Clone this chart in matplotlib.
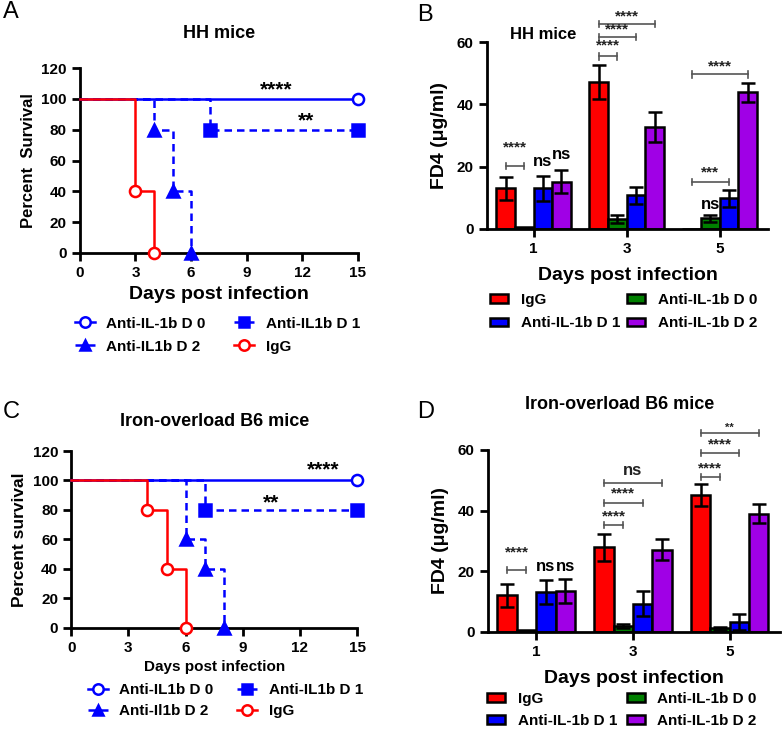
import numpy as np
import matplotlib
matplotlib.use("Agg")
import matplotlib.pyplot as plt
from matplotlib.patches import Patch

plt.rcParams['font.family'] = ['Liberation Sans', 'DejaVu Sans']
plt.rcParams['font.weight'] = 'bold'

# ---- survival data (Kaplan-Meier step curves) ----
# panel A: HH mice
a_d0_t = [0, 15];          a_d0_s = [100, 100]
a_d1_t = [0, 7, 15];       a_d1_s = [100, 80, 80]
a_d2_t = [0, 4, 5, 6];     a_d2_s = [100, 80, 40, 0]
a_igg_t = [0, 3, 4];       a_igg_s = [100, 40, 0]
a_labels = ['Anti-IL-1b D 0', 'Anti-IL1b D 1', 'Anti-IL1b D 2', 'IgG']

# panel C: iron-overload B6 mice
c_d0_t = [0, 15];          c_d0_s = [100, 100]
c_d1_t = [0, 7, 15];       c_d1_s = [100, 80, 80]
c_d2_t = [0, 6, 7, 8];     c_d2_s = [100, 60, 40, 0]
c_igg_t = [0, 4, 5, 6];    c_igg_s = [100, 80, 40, 0]
c_labels = ['Anti-IL1b D 0', 'Anti-IL1b D 1', 'Anti-Il1b D 2', 'IgG']

# ---- FD4 bar data ----
days = ['1', '3', '5']
groups = ['IgG', 'Anti-IL-1b D 0', 'Anti-IL-1b D 1', 'Anti-IL-1b D 2']
bar_colors = ['#ff0000', '#008000', '#0000ff', '#a000e6']

b_mean = [[13.0, 47.2, 0.0],
          [0.5, 3.2, 3.4],
          [13.1, 10.8, 9.8],
          [15.2, 32.8, 43.9]]
b_err = [[3.8, 5.4, 0.0],
         [0.0, 1.4, 1.1],
         [4.0, 2.7, 2.6],
         [3.7, 4.8, 3.1]]

d_mean = [[12.0, 27.8, 45.2],
          [0.4, 1.9, 1.1],
          [13.0, 9.3, 3.3],
          [13.5, 27.1, 39.0]]
d_err = [[3.8, 4.4, 3.6],
         [0.0, 0.6, 0.6],
         [4.0, 4.0, 2.6],
         [4.0, 3.4, 3.2]]

# significance brackets: (day index, group from, group to, y, label, label y)
b_sig = [(0, 0, 1, 20.3, '****', 24.0),
         (1, 0, 1, 55.4, '****', 56.8),
         (1, 0, 2, 61.6, '****', 61.8),
         (1, 0, 3, 65.8, '****', 66.0),
         (2, 0, 2, 15.2, '***', 16.0),
         (2, 0, 3, 49.6, '****', 49.8)]
b_ns = [(0, 2, 19.2), (0, 3, 21.6), (2, 1, 5.6)]

d_sig = [(0, 0, 1, 20.4, '****', 24.0),
         (1, 0, 1, 35.2, '****', 35.6),
         (1, 0, 2, 42.6, '****', 43.4),
         (1, 0, 3, 49.0, 'ns', 50.6),
         (2, 0, 1, 51.2, '****', 51.6),
         (2, 0, 2, 58.9, '****', 59.6),
         (2, 0, 3, 65.5, '**', 65.6)]
d_ns = [(0, 2, 19.0), (0, 3, 19.0)]

W = 0.2


def style_axes(ax):
    for s in ['top', 'right']:
        ax.spines[s].set_visible(False)
    for s in ['left', 'bottom']:
        ax.spines[s].set_linewidth(2)
    ax.tick_params(width=2, length=6, labelsize=11, direction='out')
    for lab in ax.get_xticklabels() + ax.get_yticklabels():
        lab.set_fontweight('bold')


def survival(ax, curves, labels, title, xlabel_size, ylabel, ylabel_size, stars):
    blue, red = '#0000ff', '#ff0000'
    specs = [
        dict(color=blue, ls='-', marker='o', mfc='white', idx=[-1]),
        dict(color=blue, ls=(0, (3, 2)), marker='s', mfc=blue, idx=None),
        dict(color=blue, ls=(0, (3, 2)), marker='^', mfc=blue, idx=None),
        dict(color=red, ls='-', marker='o', mfc='white', idx=None),
    ]
    handles = []
    for (t, s), sp, lab in zip(curves, specs, labels):
        ax.step(t, s, where='post', color=sp['color'], ls=sp['ls'], lw=1.8,
                clip_on=False, zorder=3)
        tt = t[1:] if sp['idx'] is None else [t[i] for i in sp['idx']]
        ss = s[1:] if sp['idx'] is None else [s[i] for i in sp['idx']]
        ax.plot(tt, ss, ls='none', marker=sp['marker'], ms=8,
                mfc=sp['mfc'], mec=sp['color'], mew=1.8, clip_on=False, zorder=4)
        h, = ax.plot([], [], color=sp['color'], ls=sp['ls'], lw=1.8,
                     marker=sp['marker'], ms=7.5, mfc=sp['mfc'], mec=sp['color'], mew=1.8)
        handles.append(h)
    ax.set_xlim(0, 15)
    ax.set_ylim(0, 120)
    ax.set_xticks([0, 3, 6, 9, 12, 15])
    ax.set_yticks([0, 20, 40, 60, 80, 100, 120])
    style_axes(ax)
    ax.set_xlabel('Days post infection', fontsize=xlabel_size, fontweight='bold', labelpad=4)
    ax.set_ylabel(ylabel, fontsize=ylabel_size, fontweight='bold', labelpad=4)
    ax.set_title(title, fontsize=13, fontweight='bold', pad=22)
    for x, y, txt in stars:
        ax.text(x, y, txt, ha='center', va='center', fontsize=15, fontweight='bold')
    order = [0, 2, 1, 3]
    return [handles[i] for i in order], [labels[i] for i in order]


def bars(ax, mean, err, sig, ns):
    x = np.arange(len(days))
    for g in range(len(groups)):
        pos = x + (g - 1.5) * W
        ax.bar(pos, mean[g], W, color=bar_colors[g], edgecolor='black', lw=1.8, zorder=2)
        m = np.array(mean[g]); e = np.array(err[g])
        keep = e > 0
        ax.errorbar(pos[keep], m[keep], yerr=e[keep], fmt='none', ecolor='black',
                    elinewidth=1.8, capsize=5, capthick=1.8, zorder=3)
    for day, g1, g2, y, txt, ty in sig:
        x1 = x[day] + (g1 - 1.5) * W
        x2 = x[day] + (g2 - 1.5) * W
        kw = dict(color='#555555', lw=1.2, clip_on=False)
        ax.plot([x1, x2], [y, y], **kw)
        ax.plot([x1, x1], [y - 1, y + 1], **kw)
        ax.plot([x2, x2], [y - 1, y + 1], **kw)
        fs = 8 if txt == '**' and day == 2 else 11
        if txt == 'ns':
            fs = 12
        ax.text((x1 + x2) / 2, ty, txt, ha='center', va='bottom', fontsize=fs,
                fontweight='bold', color='#222222', clip_on=False)
    for day, g, ty in ns:
        ax.text(x[day] + (g - 1.5) * W, ty, 'ns', ha='center', va='bottom',
                fontsize=12, fontweight='bold')
    ax.set_xlim(-0.5, 2.52)
    ax.set_ylim(0, 60)
    ax.set_xticks(x)
    ax.set_xticklabels(days)
    ax.set_yticks([0, 20, 40, 60])
    style_axes(ax)
    ax.set_xlabel('Days post infection', fontsize=14, fontweight='bold', labelpad=8)
    ax.set_ylabel('FD4 (μg/ml)', fontsize=14, fontweight='bold', labelpad=6)
    handles = [Patch(facecolor=c, edgecolor='black', lw=1.8) for c in bar_colors]
    order = [0, 2, 1, 3]
    return [handles[i] for i in order], [groups[i] for i in order]


fig = plt.figure(figsize=(7.83, 7.33), dpi=100)
axA = fig.add_axes([0.102, 0.655, 0.355, 0.252])
axB = fig.add_axes([0.622, 0.6876, 0.359, 0.255])
axC = fig.add_axes([0.091, 0.1437, 0.365, 0.241])
axD = fig.add_axes([0.623, 0.1382, 0.373, 0.248])

leg_kw = dict(ncol=2, loc='upper left', frameon=False, fontsize=11,
              borderpad=0, borderaxespad=0)

hA, lA = survival(axA, [(a_d0_t, a_d0_s), (a_d1_t, a_d1_s), (a_d2_t, a_d2_s), (a_igg_t, a_igg_s)],
                  a_labels, 'HH mice', 14, 'Percent  Survival', 12,
                  [(10.6, 106, '****'), (12.2, 86, '**')])
fig.legend(hA, lA, bbox_to_anchor=(0.096, 0.568), handlelength=1.3, handletextpad=0.75,
           columnspacing=1.86, labelspacing=0.6, **leg_kw)

hC, lC = survival(axC, [(c_d0_t, c_d0_s), (c_d1_t, c_d1_s), (c_d2_t, c_d2_s), (c_igg_t, c_igg_s)],
                  c_labels, 'Iron-overload B6 mice', 11, 'Percent survival', 12.5,
                  [(13.2, 107, '****'), (10.5, 85, '**')])
axC.set_title('Iron-overload B6 mice', fontsize=13, fontweight='bold', pad=18)
fig.legend(hC, lC, bbox_to_anchor=(0.1124, 0.068), handlelength=1.3, handletextpad=0.75,
           columnspacing=1.55, labelspacing=0.45, **leg_kw)

hB, lB = bars(axB, b_mean, b_err, b_sig, b_ns)
axB.text(0.08, 1.04, 'HH mice', transform=axB.transAxes, fontsize=12, fontweight='bold',
         va='center', ha='left')
fig.legend(hB, lB, bbox_to_anchor=(0.626, 0.600), handlelength=1.2, handleheight=0.5,
           handletextpad=0.8, columnspacing=0.45, labelspacing=0.6, **leg_kw)

hD, lD = bars(axD, d_mean, d_err, d_sig, d_ns)
axD.text(0.45, 1.25, 'Iron-overload B6 mice', transform=axD.transAxes, fontsize=13,
         fontweight='bold', va='center', ha='center')
fig.legend(hD, lD, bbox_to_anchor=(0.622, 0.056), handlelength=1.2, handleheight=0.5,
           handletextpad=0.8, columnspacing=0.65, labelspacing=0.5, **leg_kw)

for lbl, x, y in [('A', 0.004, 0.983), ('B', 0.533, 0.98), ('C', 0.004, 0.438), ('D', 0.533, 0.438)]:
    fig.text(x, y, lbl, fontsize=17, fontweight='normal', va='center', ha='left')

fig.savefig('out.png', dpi=100)
plt.close()
